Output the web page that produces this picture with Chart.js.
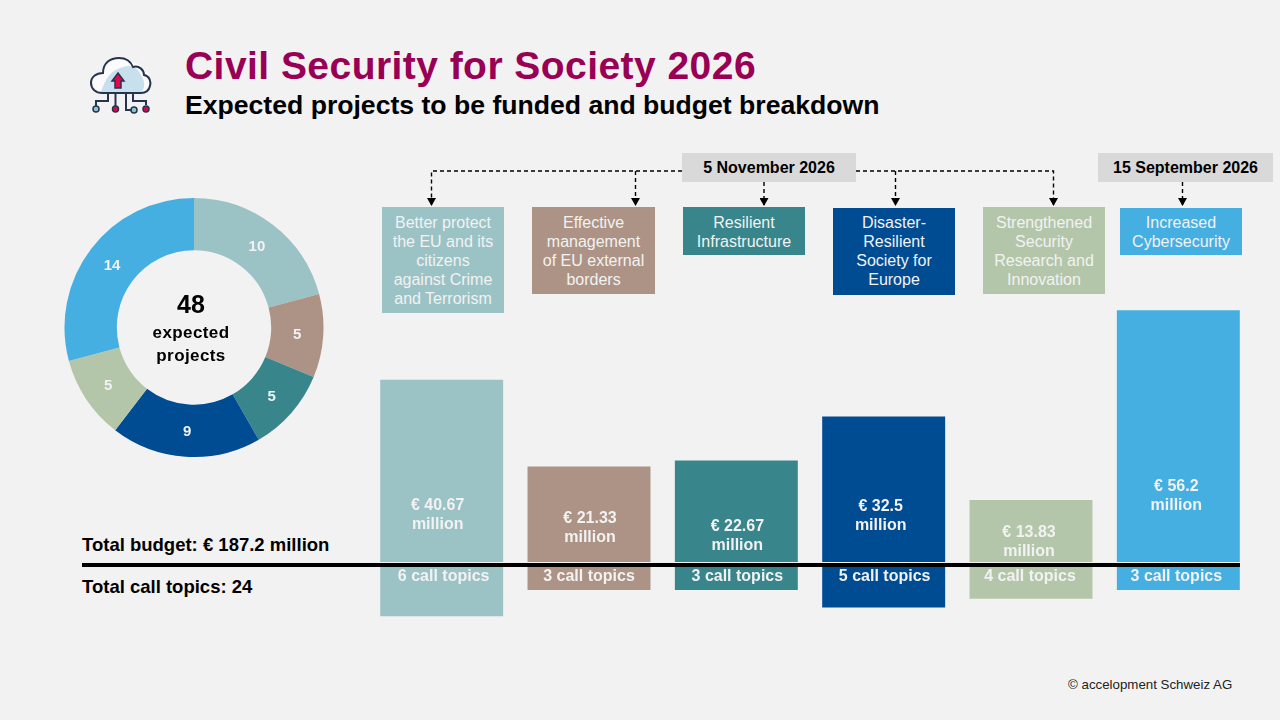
<!DOCTYPE html>
<html>
<head>
<meta charset="utf-8">
<title>Civil Security for Society 2026</title>
<script src="https://cdn.jsdelivr.net/npm/chart.js@4"></script>
<style>
html, body { margin: 0; padding: 0; }
body { width: 1280px; height: 720px; background: #f2f2f2; position: relative; overflow: hidden; font-family: "Liberation Sans", Arial, sans-serif; color: #000; }
.abs { position: absolute; white-space: nowrap; }
h1, h2 { margin: 0; font-weight: bold; position: absolute; white-space: nowrap; }
h1 { left: 185px; top: 43px; font-size: 39px; line-height: 46px; color: #990055; letter-spacing: 0.45px; }
h2 { left: 185px; top: 90px; font-size: 26.6px; line-height: 30px; }
.box { position: absolute; color: #f2f2f2; font-size: 16px; line-height: 19px; text-align: center; padding-top: 6px; box-sizing: border-box; }
.date { position: absolute; background: #d9d9d9; font-weight: bold; font-size: 16px; line-height: 30px; height: 29px; text-align: center; top: 153px; }
.total { font-weight: bold; font-size: 18.5px; line-height: 22px; left: 82px; }
.center { left: 91px; width: 200px; text-align: center; font-weight: bold; }
#donut { position: absolute; left: 64px; top: 197px; }
#bars { position: absolute; left: 368px; top: 300px; }
svg { position: absolute; left: 0; top: 0; pointer-events: none; }
</style>
</head>
<body>
<svg width="1280" height="720" viewBox="0 0 1280 720">
  <defs>
    <marker id="arrow" markerUnits="userSpaceOnUse" markerWidth="8" markerHeight="9" refX="7" refY="4.5" orient="auto" viewBox="0 0 8 9">
      <path d="M0 0 L8 4.5 L0 9 Z" fill="#000"/>
    </marker>
  </defs>
  <!-- icon -->
  <g fill="none" stroke="#27344f" stroke-width="2">
    <path d="M104 66 C108 58 122 54 131 63 C139 62 143 67 145 71 C152 75 151 90 141 93 L100 93 C90 90 90 74 103 71 C102 69 103 67 104 66 Z" fill="#fbfbfb" stroke="none"/>
    <path d="M101 92 C106 78 110 72 118 69 C130 63 137 66 142 77 C146 84 144 90 141 92 Z" fill="#c8dfee" stroke="none"/>
    <path d="M103 73 C103 63 110 58 119 58 C126 58 131 62 133 67 C139 65 144 70 144 75 C150 76 151 82 150 86 C149 90 146 93 141 93 L102 93 C96 93 91 89 91 83 C91 77 96 73 103 73 Z"/>
    <path d="M108 94 L108 101 L96 101 L96 106"/>
    <path d="M115.500 94 L115.500 106"/>
    <path d="M126 94 L126 110 L134 110" />
    <path d="M133 94 L133 101 L146 101 L146 105"/>
  </g>
  <path d="M118 73 L124 81 L121 81 L121 88 L115 88 L115 81 L112 81 Z" fill="#e0074f" stroke="#27344f" stroke-width="1.500"/>
  <g stroke="#27344f" stroke-width="1.500">
    <circle cx="96" cy="109" r="3" fill="#8cc5d8"/>
    <circle cx="115.500" cy="109" r="3" fill="#d4094f"/>
    <circle cx="134" cy="110" r="3" fill="#8cc5d8"/>
    <circle cx="146" cy="109" r="3" fill="#d4094f"/>
  </g>
  <!-- connectors -->
  <g fill="none" stroke="#000" stroke-width="1.400" stroke-dasharray="4 3">
    <path d="M682 171 L431.500 171 L431.500 205" marker-end="url(#arrow)"/>
    <path d="M635.500 171 L635.500 205" marker-end="url(#arrow)"/>
    <path d="M764 182 L764 205" marker-end="url(#arrow)"/>
    <path d="M856 171 L1053.500 171 L1053.500 205" marker-end="url(#arrow)"/>
    <path d="M895.500 171 L895.500 205" marker-end="url(#arrow)"/>
    <path d="M1182.500 182 L1182.500 205" marker-end="url(#arrow)"/>
  </g>
</svg>

<h1>Civil Security for Society 2026</h1>
<h2>Expected projects to be funded and budget breakdown</h2>

<div class="date" style="left:682px;width:174px;">5 November 2026</div>
<div class="date" style="left:1098px;width:175px;">15 September 2026</div>

<div id="boxes"></div>

<canvas id="donut" width="260" height="261"></canvas>
<canvas id="bars" width="884" height="330"></canvas>

<div class="abs center" style="top:289px;font-size:25px;line-height:30px;">48</div>
<div class="abs center" style="top:323px;font-size:17px;line-height:20px;letter-spacing:0.4px;">expected</div>
<div class="abs center" style="top:346px;font-size:17px;line-height:20px;letter-spacing:0.4px;">projects</div>

<div class="abs" style="left:82px;top:563px;width:1158px;height:3.5px;background:#000;"></div>
<div class="abs total" style="top:534px;">Total budget: € 187.2 million</div>
<div class="abs total" style="top:576px;">Total call topics: 24</div>
<div class="abs" style="left:1068px;top:677px;font-size:13.3px;line-height:16px;color:#222;">© accelopment Schweiz AG</div>

<script>
const categories = [
    ["Better protect", "the EU and its", "citizens", "against Crime", "and Terrorism"],
    ["Effective", "management", "of EU external", "borders"],
    ["Resilient", "Infrastructure"],
    ["Disaster-", "Resilient", "Society for", "Europe"],
    ["Strengthened", "Security", "Research and", "Innovation"],
    ["Increased", "Cybersecurity"],
];
const projects = [10, 5, 5, 9, 5, 14];
const budget = [40.67, 21.33, 22.67, 32.5, 13.83, 56.2];
const callTopics = [6, 3, 3, 5, 4, 3];
const colors = ["#9bc3c6", "#ad9385", "#38868b", "#004c93", "#b4c6a9", "#45afe2"];

// label placement, canvas px relative to bar centre / canvas top
const budgetLabelDx = [-4, 1, 1, -3, -2, -2];
const budgetLabelY = [206, 219, 227, 207, 233, 187];
const topicLabelDx = [2, 0, 1, 1, -1, -2];
const boxPos = [
    [382, 207, 122, 106],
    [532, 207, 123, 87],
    [683, 207, 122, 48],
    [833, 208, 122, 87],
    [983, 207, 122, 87],
    [1120, 208, 122, 47],
];

const boxes = document.getElementById("boxes");
categories.forEach((lines, i) => {
    const el = document.createElement("div");
    el.className = "box";
    const p = boxPos[i];
    el.style.cssText = `left:${p[0]}px;top:${p[1]}px;width:${p[2]}px;height:${p[3]}px;background:${colors[i]};padding-top:${213 - p[1]}px;`;
    el.innerHTML = lines.join("<br>");
    boxes.appendChild(el);
});

const donutLabels = {
    id: "donutLabels",
    afterDatasetsDraw(chart) {
        const ctx = chart.ctx;
        ctx.save();
        ctx.fillStyle = "#f2f2f2";
        ctx.font = "bold 15px 'Liberation Sans'";
        ctx.textAlign = "center";
        ctx.textBaseline = "middle";
        chart.getDatasetMeta(0).data.forEach((arc, i) => {
            const c = arc.getCenterPoint();
            ctx.fillText(projects[i], c.x, c.y + 1);
        });
        ctx.restore();
    },
};

new Chart(document.getElementById("donut").getContext("2d"), {
    type: "doughnut",
    data: {
        labels: categories.map((c) => c.join(" ")),
        datasets: [{ data: projects, backgroundColor: colors, borderWidth: 0 }],
    },
    options: {
        responsive: false,
        animation: false,
        radius: 129.5,
        cutout: 77.5,
        plugins: { legend: { display: false }, tooltip: { enabled: false } },
    },
    plugins: [donutLabels],
});

const barLabels = {
    id: "barLabels",
    afterDatasetsDraw(chart) {
        const ctx = chart.ctx;
        ctx.save();
        ctx.fillStyle = "#f2f2f2";
        ctx.font = "bold 16px 'Liberation Sans'";
        ctx.textAlign = "center";
        ctx.textBaseline = "middle";
        chart.getDatasetMeta(0).data.forEach((bar, i) => {
            const x = bar.x + budgetLabelDx[i];
            ctx.fillText("€ " + budget[i], x, budgetLabelY[i]);
            ctx.fillText("million", x, budgetLabelY[i] + 19);
            ctx.fillText(callTopics[i] + " call topics", bar.x + topicLabelDx[i], 277);
        });
        ctx.restore();
    },
};

new Chart(document.getElementById("bars").getContext("2d"), {
    type: "bar",
    data: {
        labels: categories.map((c) => c.join(" ")),
        datasets: [
            {
                label: "Budget",
                data: budget,
                backgroundColor: colors,
                yAxisID: "yBudget",
                grouped: false,
                barPercentage: 0.8345,
                categoryPercentage: 1,
            },
            {
                label: "Call topics",
                data: callTopics.map((v) => -v),
                backgroundColor: colors,
                yAxisID: "yTopics",
                grouped: false,
                barPercentage: 0.8345,
                categoryPercentage: 1,
            },
        ],
    },
    options: {
        responsive: false,
        animation: false,
        layout: { padding: 0 },
        scales: {
            x: { display: false },
            // zero of budget at y 562, zero of topics at y 564 on the page
            yBudget: { display: false, min: -15.18, max: 58.5 },
            yTopics: { display: false, min: -7.59, max: 30.35 },
        },
        plugins: { legend: { display: false }, tooltip: { enabled: false } },
    },
    plugins: [barLabels],
});
</script>
</body>
</html>
